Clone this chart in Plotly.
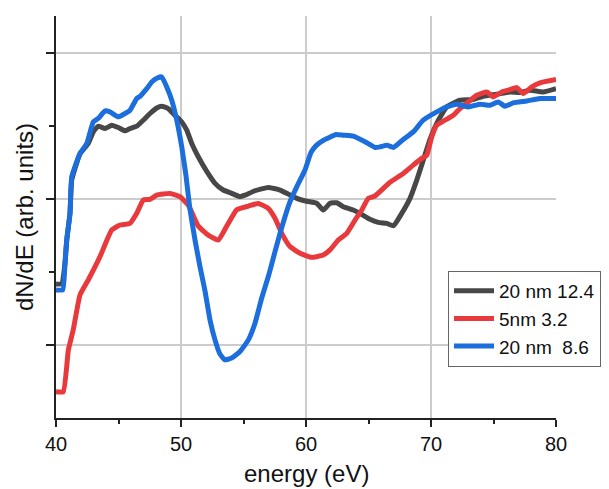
import plotly.graph_objects as go

# ---- data ----
e_black = [40.0, 40.45, 40.72, 40.86, 41.12, 41.26, 41.92, 42.58, 42.98, 43.38,
           43.92, 44.46, 44.98, 45.52, 45.92, 46.46, 46.98, 47.52, 48.06, 48.46,
           48.98, 49.52, 50.06, 50.46, 50.86, 51.38, 52.06, 52.72, 53.38, 54.06,
           54.72, 55.12, 55.92, 56.98, 57.92, 58.58, 59.26, 60.06, 60.86, 61.38,
           61.92, 62.46, 62.98, 63.78, 64.32, 65.12, 65.78, 66.46, 67.0, 67.66,
           68.32, 68.86, 69.38, 69.92, 70.52, 71.26, 72.32, 73.38, 74.18, 75.26,
           76.32, 77.12, 77.92, 78.98, 80.0]
v_black = [-0.582, -0.582, -0.44, -0.28, -0.098, 0.13, 0.31, 0.381, 0.461, 0.5,
           0.484, 0.507, 0.491, 0.468, 0.484, 0.5, 0.541, 0.587, 0.625, 0.637,
           0.621, 0.575, 0.529, 0.473, 0.381, 0.29, 0.19, 0.108, 0.062, 0.039,
           0.016, 0.027, 0.057, 0.08, 0.062, 0.034, 0.005, -0.015, -0.029, -0.075,
           -0.029, -0.025, -0.052, -0.075, -0.098, -0.139, -0.16, -0.167, -0.183, -0.098,
           0.005, 0.13, 0.267, 0.41, 0.53, 0.632, 0.678, 0.683, 0.705, 0.719,
           0.735, 0.731, 0.747, 0.735, 0.758]

e_red = [40.0, 40.58, 40.99, 41.38, 41.92, 42.58, 43.52, 44.46, 45.12, 45.92,
         46.46, 46.98, 47.52, 48.06, 49.12, 49.92, 50.58, 51.38, 52.18, 52.98,
         53.66, 54.46, 55.39, 56.19, 56.98, 57.52, 58.06, 58.72, 59.52, 60.46,
         61.38, 61.92, 62.58, 63.26, 63.92, 64.46, 64.98, 65.52, 66.72, 67.78,
         68.58, 69.26, 69.66, 70.06, 70.46, 71.12, 71.78, 72.32, 72.98, 73.66,
         74.46, 74.98, 75.66, 76.32, 76.86, 77.38, 78.06, 78.72, 80.0]
v_red = [-1.322, -1.322, -1.034, -0.897, -0.658, -0.555, -0.395, -0.212, -0.178, -0.167,
         -0.098, -0.007, -0.002, 0.027, 0.039, 0.016, -0.041, -0.185, -0.247, -0.281,
         -0.185, -0.073, -0.048, -0.030, -0.064, -0.132, -0.235, -0.326, -0.372, -0.4,
         -0.384, -0.349, -0.281, -0.235, -0.144, -0.075, 0.005, 0.021, 0.115, 0.176,
         0.233, 0.279, 0.301, 0.427, 0.507, 0.541, 0.575, 0.621, 0.666, 0.712,
         0.735, 0.701, 0.735, 0.751, 0.765, 0.724, 0.769, 0.797, 0.820]

e_blue = [40.0, 40.54, 40.72, 40.86, 41.12, 41.26, 41.92, 42.46, 42.98, 43.38,
          43.92, 44.32, 44.98, 45.38, 45.92, 46.46, 46.72, 47.26, 47.66, 48.1,
          48.46, 48.86, 49.26, 49.66, 50.06, 50.4, 50.7, 51.12, 51.52, 51.92,
          52.32, 52.72, 53.1, 53.5, 54.05, 54.72, 55.39, 55.92, 56.45, 56.99,
          57.52, 57.92, 58.32, 58.72, 59.26, 59.92, 60.4, 60.85, 61.32, 61.8,
          62.4, 63.0, 63.78, 64.72, 65.52, 65.92, 66.46, 67.0, 67.78, 68.58,
          69.38, 70.46, 71.26, 72.06, 72.98, 73.92, 74.72, 75.38, 75.92, 76.58,
          77.66, 78.72, 80.0]
v_blue = [-0.623, -0.623, -0.44, -0.28, -0.098, 0.153, 0.313, 0.381, 0.529, 0.553,
          0.605, 0.598, 0.564, 0.58, 0.61, 0.69, 0.705, 0.758, 0.803, 0.83,
          0.838, 0.769, 0.678, 0.541, 0.358, 0.16, -0.06, -0.281, -0.464, -0.63,
          -0.829, -0.966, -1.06, -1.103, -1.091, -1.046, -0.966, -0.852, -0.68, -0.53,
          -0.361, -0.235, -0.121, -0.018, 0.084, 0.199, 0.32, 0.37, 0.4, 0.42,
          0.443, 0.438, 0.432, 0.393, 0.354, 0.358, 0.37, 0.354, 0.409, 0.461,
          0.541, 0.598, 0.632, 0.651, 0.632, 0.651, 0.644, 0.666, 0.637, 0.66,
          0.673, 0.69, 0.69]

names = ["20 nm 12.4", "5nm 3.2", "20 nm  8.6"]
colors = ["#474747", "#e8393d", "#1c6edc"]
x_ticks = [40, 50, 60, 70, 80]
x_minor = [45, 55, 65, 75]
x_grid = [50, 60, 70]
y_grid = [-1, 0, 1]
y_minor = [-0.5, 0.5]
x_title = "energy (eV)"
y_title = "dN/dE (arb. units)"

FONT = "Liberation Sans, Arial, sans-serif"
AX = "#222222"

fig = go.Figure()
# empty trace so that the labelled energy axis (x) is laid out and drawn
fig.add_trace(go.Scatter(x=[], y=[], xaxis="x", yaxis="y", mode="lines",
                         showlegend=False, hoverinfo="skip"))
for e, v, n, c in zip([e_black, e_red, e_blue], [v_black, v_red, v_blue], names, colors):
    fig.add_trace(go.Scatter(x=e, y=v, mode="lines", name=n, xaxis="x2", yaxis="y",
                             line=dict(color=c, width=5, shape="spline", smoothing=0.4)))

fig.update_layout(
    width=609, height=489,
    margin=dict(l=56, r=53, t=16, b=71, autoexpand=False),
    paper_bgcolor="white", plot_bgcolor="white",
    font=dict(family=FONT, color="#111111"),
    xaxis=dict(range=[40, 80], tickvals=x_ticks, ticktext=[str(t) for t in x_ticks],
               showgrid=False, zeroline=False,
               showline=True, linecolor=AX, linewidth=1.5,
               ticks="outside", ticklen=7, tickwidth=1.5, tickcolor=AX,
               minor=dict(tickvals=x_minor, ticks="outside", ticklen=4,
                          tickwidth=1.5, tickcolor=AX, showgrid=False),
               tickfont=dict(size=20, family=FONT, color="#111111")),
    xaxis2=dict(range=[40, 80], overlaying="x", anchor="y", side="bottom",
                tickvals=x_grid, showticklabels=False, ticks="",
                showgrid=True, gridcolor="#cccccc", gridwidth=1.5,
                zeroline=False, showline=False),
    yaxis=dict(range=[-1.502, 1.256], tickvals=y_grid, showticklabels=False,
               showgrid=True, gridcolor="#cccccc", gridwidth=1.5, zeroline=False,
               showline=True, linecolor=AX, linewidth=1.5,
               ticks="outside", ticklen=8, tickwidth=1.5, tickcolor=AX,
               minor=dict(tickvals=y_minor, ticks="outside", ticklen=5,
                          tickwidth=1.5, tickcolor=AX, showgrid=False),
               title=dict(text=y_title, font=dict(size=24, family=FONT, color="#111111"),
                          standoff=6)),
    legend=dict(x=0.784, y=0.366, xanchor="left", yanchor="top",
                bgcolor="white", bordercolor="#666666", borderwidth=1,
                font=dict(size=19, family=FONT, color="#111111"),
                itemwidth=40, tracegroupgap=0),
    showlegend=True,
    annotations=[dict(text=x_title, xref="paper", yref="paper", x=0.5, y=-0.139,
                      xanchor="center", yanchor="middle", showarrow=False,
                      font=dict(size=24, family=FONT, color="#111111"))],
)

fig.write_html("out.html")
